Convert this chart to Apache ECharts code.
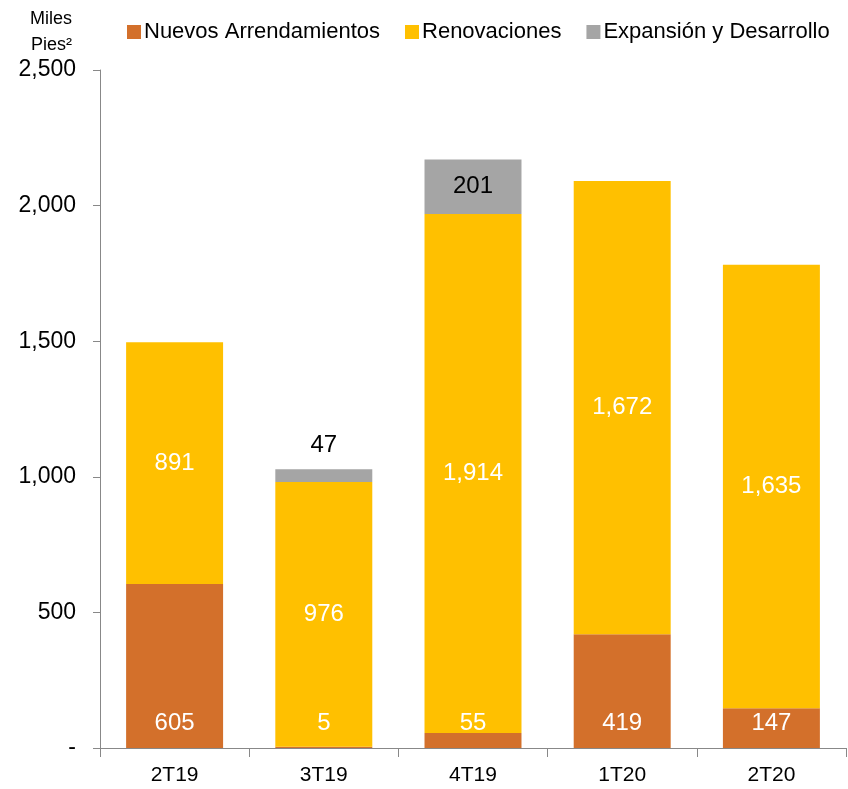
<!DOCTYPE html>
<html>
<head>
<meta charset="utf-8">
<script src="https://cdn.jsdelivr.net/npm/echarts@6/dist/echarts.min.js"></script>
<style>
  html, body { margin: 0; padding: 0; background: #fff; }
  #chart { width: 848px; height: 789px; }
</style>
</head>
<body>
<div id="chart"></div>
<script>
// datos
const categories = ['2T19', '3T19', '4T19', '1T20', '2T20'];
const nuevos = [605, 5, 55, 419, 147];
const renovaciones = [891, 976, 1914, 1672, 1635];
const expansion = [null, 47, 201, null, null];
const yTicks = ['-', '500', '1,000', '1,500', '2,000', '2,500'];

const fmt = v => v.toLocaleString('en-US');
const sans = '"Liberation Sans", Arial, sans-serif';

const chart = echarts.init(document.getElementById('chart'));

const option = {
  animation: false,
  textStyle: { fontFamily: sans },
  grid: { left: 100, right: 2, top: 70, bottom: 41 },
  legend: {
    left: 122,
    top: 16,
    itemWidth: 14,
    itemHeight: 14,
    itemGap: 25,
    icon: 'rect',
    textStyle: { fontSize: 22, color: '#000', padding: [0, 0, 0, -2] },
    data: ['Nuevos Arrendamientos', 'Renovaciones', 'Expansión y Desarrollo']
  },
  xAxis: {
    type: 'category',
    data: categories,
    axisLine: { lineStyle: { color: '#888', width: 1 } },
    axisTick: { show: true, length: 9, lineStyle: { color: '#888' } },
    axisLabel: { fontSize: 21, color: '#000', margin: 17 }
  },
  yAxis: {
    type: 'value',
    min: 0,
    max: 2500,
    interval: 500,
    name: 'Miles\nPies²',
    nameLocation: 'end',
    nameGap: 12,
    nameTextStyle: { fontSize: 18, color: '#000', align: 'right', padding: [0, 28, 0, 0], lineHeight: 26 },
    splitLine: { show: false },
    axisLine: { show: true, lineStyle: { color: '#888', width: 1 } },
    axisTick: { show: true, length: 7, lineStyle: { color: '#888' } },
    axisLabel: {
      fontSize: 23,
      color: '#000',
      margin: 24,
      formatter: v => yTicks[v / 500]
    }
  },
  series: [
    {
      name: 'Nuevos Arrendamientos',
      type: 'bar',
      stack: 'total',
      barWidth: '65%',
      itemStyle: { color: '#D3702B' },
      label: {
        show: true,
        position: 'insideBottom',
        distance: 13,
        color: '#fff',
        fontSize: 24,
        formatter: p => fmt(p.value)
      },
      data: nuevos
    },
    {
      name: 'Renovaciones',
      type: 'bar',
      stack: 'total',
      itemStyle: { color: '#FFC000' },
      label: {
        show: true,
        position: 'inside',
        color: '#fff',
        fontSize: 24,
        formatter: p => fmt(p.value)
      },
      data: renovaciones
    },
    {
      name: 'Expansión y Desarrollo',
      type: 'bar',
      stack: 'total',
      itemStyle: { color: '#A5A5A5' },
      label: {
        show: true,
        position: 'inside',
        color: '#000',
        fontSize: 24,
        formatter: p => fmt(p.value)
      },
      data: expansion.map(v => v === null ? null : (v < 100
        ? { value: v, label: { position: 'top', distance: 12 } }
        : v))
    }
  ]
};

chart.setOption(option);
</script>
</body>
</html>
